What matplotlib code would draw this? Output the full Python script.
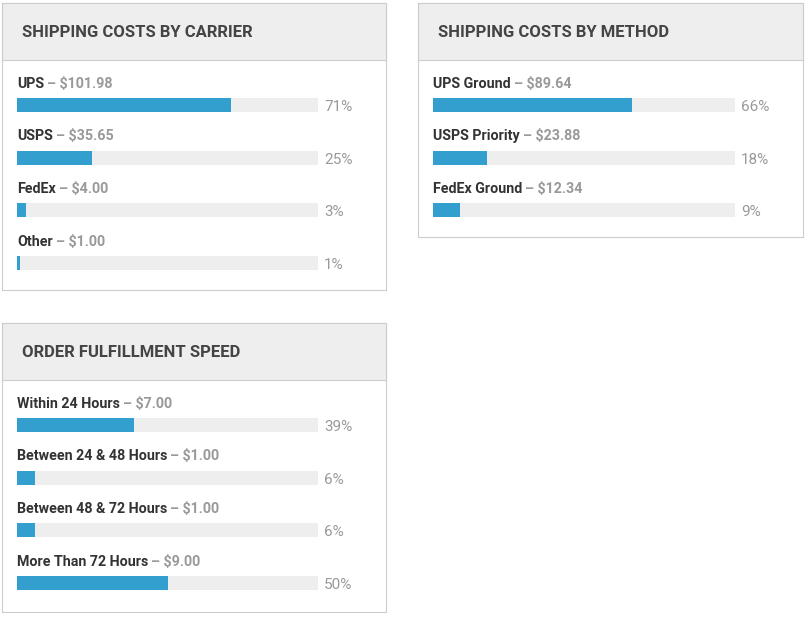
import matplotlib.pyplot as plt
from matplotlib.patches import Rectangle

carriers = ["UPS", "USPS", "FedEx", "Other"]
carrier_costs = [101.98, 35.65, 4.00, 1.00]
carrier_pct = [71, 25, 3, 1]

methods = ["UPS Ground", "USPS Priority", "FedEx Ground"]
method_costs = [89.64, 23.88, 12.34]
method_pct = [66, 18, 9]

speeds = ["Within 24 Hours", "Between 24 & 48 Hours",
          "Between 48 & 72 Hours", "More Than 72 Hours"]
speed_costs = [7.00, 1.00, 1.00, 9.00]
speed_pct = [39, 6, 6, 50]

plt.rcParams['font.family'] = ['Roboto', 'DejaVu Sans']

W, H = 808, 619
ROW = 52.7  # px between rows
BLUE = '#339fce'
TRACK = '#eeeeee'

fig = plt.figure(figsize=(W / 100, H / 100), dpi=100)


def box(x0, y0, x1, y1, **kw):
    fig.add_artist(Rectangle((x0 / W, 1 - y1 / H), (x1 - x0) / W, (y1 - y0) / H,
                             transform=fig.transFigure, zorder=-10, **kw))


def panel(left, top, right, bottom, title, names, costs, pct, tl, tr):
    head = top + 57
    box(left, top, right, bottom, facecolor='white', edgecolor='#cccccc', lw=0.8)
    box(left, top, right, head, facecolor='#eeeeee', edgecolor='#cccccc', lw=0.8)
    fig.text((left + 20) / W, 1 - (top + 34) / H, title, fontsize=12,
             fontweight='bold', color='#444444', va='baseline')

    n = len(names)
    ax = fig.add_axes([tl / W, 1 - bottom / H, (tr - tl) / W, (bottom - head) / H])
    ax.set_xlim(0, 100)
    ax.set_ylim((bottom - head - 45) / ROW, -45 / ROW)
    ax.axis('off')
    rows = list(range(n))
    ax.barh(rows, [100] * n, height=14 / ROW, color=TRACK)
    ax.barh(rows, pct, height=14 / ROW, color=BLUE)

    for i, (name, c, p) in enumerate(zip(names, costs, pct)):
        t = ax.text(0, i - 17.5 / ROW, name, fontsize=10.3, fontweight='bold',
                    color='#333333', va='baseline', ha='left')
        ax.annotate(f"\u2013 ${c:.2f}", xy=(1, 0), xycoords=t, xytext=(3, 0),
                    textcoords='offset pixels', fontsize=10.3, fontweight='bold',
                    color='#999999', va='bottom', ha='left')
        ax.annotate(f"{p}%", xy=(100, i + 6 / ROW), xytext=(6, 0),
                    textcoords='offset pixels', fontsize=11, color='#999999',
                    va='baseline', ha='left', annotation_clip=False)


panel(2, 3, 386, 290, "SHIPPING COSTS BY CARRIER", carriers, carrier_costs, carrier_pct, 17, 318)
panel(418, 3, 803, 237, "SHIPPING COSTS BY METHOD", methods, method_costs, method_pct, 433, 735)
panel(2, 323, 386, 612, "ORDER FULFILLMENT SPEED", speeds, speed_costs, speed_pct, 17, 318)

fig.savefig('out.png', dpi=100, facecolor='white')
